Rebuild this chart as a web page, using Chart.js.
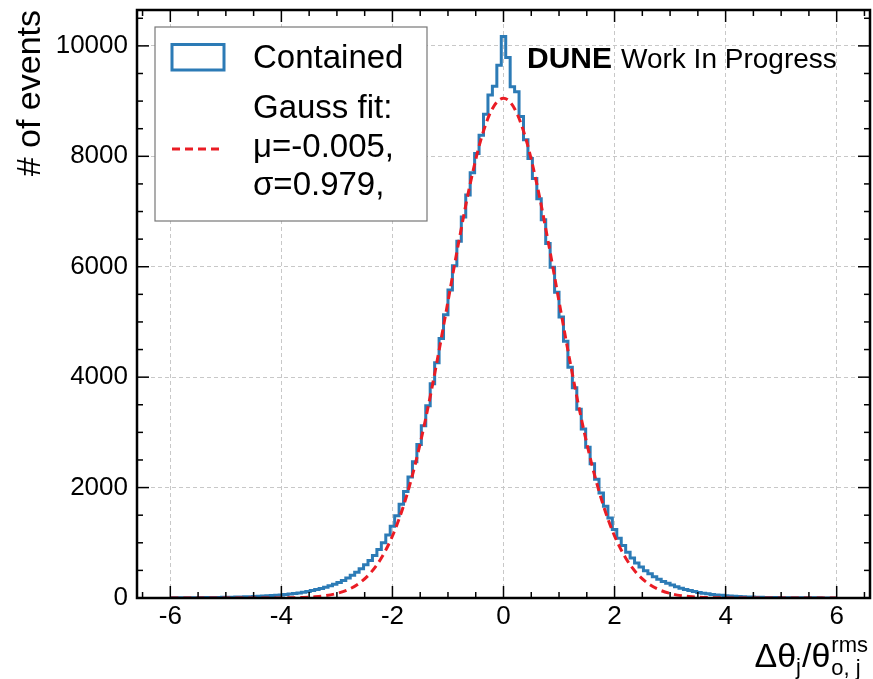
<!DOCTYPE html>
<html>
<head>
<meta charset="utf-8">
<script src="https://cdn.jsdelivr.net/npm/chart.js@4.4.0/dist/chart.umd.min.js"></script>
<style>
  html, body { margin: 0; padding: 0; background: #fff; }
  #wrap { width: 873px; height: 679px; }
</style>
</head>
<body>
<div id="wrap"><canvas id="chart" width="873" height="679"></canvas></div>
<script>
// histogram: 151 bins of width 0.08, centres from -6.00 to 6.00
var binFirst = -6.0;
var binWidth = 0.08;
var containedCounts = [
  3, 3, 4, 4, 5, 5, 6, 7, 7, 8,
  9, 10, 12, 13, 15, 17, 19, 22, 24, 27,
  31, 35, 39, 44, 50, 56, 63, 72, 81, 92,
  104, 118, 134, 152, 172, 195, 220, 248, 280, 318,
  360, 410, 465, 530, 600, 680, 770, 880, 1000, 1140,
  1300, 1490, 1700, 1930, 2190, 2470, 2780, 3120, 3480, 3880,
  4260, 4700, 5130, 5580, 6020, 6460, 6900, 7300, 7700, 8050,
  8380, 8760, 9110, 9270, 9650,
  10170,
  9790, 9260, 9170, 8720, 8300,
  7960, 7600, 7230, 6850, 6420, 5990, 5540, 5090, 4650, 4180,
  3810, 3420, 3060, 2730, 2430, 2150, 1900, 1660, 1450, 1240,
  1080, 950, 830, 725, 635, 560, 495, 440, 385, 340,
  300, 265, 235, 205, 178, 155, 135, 117, 101, 88,
  76, 65, 56, 48, 41, 35, 30, 26, 22, 19,
  16, 14, 12, 10, 9, 8, 7, 6, 6, 5,
  5, 4, 4, 3, 3, 3, 2, 2, 2, 2
];

// gauss fit curve read at steps of 0.2 from -6 to 6
var fitFirst = -6.0;
var fitStep = 0.2;
var fitValues = [
  0, 0, 0, 0, 0, 0, 0,
  0.1, 0.4, 0.9, 2.1, 4.8, 10.5, 22, 43, 83, 151, 266, 448, 725, 1123,
  1670, 2380, 3255, 4270, 5371, 6481, 7501, 8326, 8863,
  9050,
  8863, 8326, 7501, 6481, 5371, 4270, 3255, 2380, 1670,
  1123, 725, 448, 266, 151, 83, 43, 22, 10.5, 4.8, 2.1, 0.9, 0.4, 0.1,
  0, 0, 0, 0, 0, 0, 0
];

var xTicks = [-6, -4, -2, 0, 2, 4, 6];
var yTicks = [0, 2000, 4000, 6000, 8000, 10000];
var legendLabels = ["Contained", "Gauss fit:", "\u03bc=-0.005,", "\u03c3=0.979,"];

var FONT = "'Liberation Sans', Arial, Helvetica, sans-serif";
var BLUE = "#2c7bb6";
var RED = "#ea1c24";

Chart.defaults.font.family = FONT;
Chart.defaults.color = "#000";

function line(ctx, x1, y1, x2, y2) {
  ctx.beginPath();
  ctx.moveTo(x1, y1);
  ctx.lineTo(x2, y2);
  ctx.stroke();
}

// frame, inward ticks, legend box and texts
var decor = {
  id: "decor",
  afterDatasetsDraw: function(chart) {
    var ctx = chart.ctx, a = chart.chartArea;
    var xs = chart.scales.x, ys = chart.scales.y;
    ctx.save();

    // ticks pointing inwards on all four sides
    ctx.strokeStyle = "#000";
    ctx.lineWidth = 1.5;
    for (var v = -6.5; v <= 6.51; v += 0.5) {
      var px = xs.getPixelForValue(v);
      var len = Math.abs(v % 2) < 1e-6 ? 12 : 6;
      line(ctx, px, a.bottom, px, a.bottom - len);
      line(ctx, px, a.top, px, a.top + len);
    }
    for (var w = 0; w <= 10500; w += 500) {
      var py = ys.getPixelForValue(w);
      var l2 = w % 2000 === 0 ? 12 : 6;
      line(ctx, a.left, py, a.left + l2, py);
      line(ctx, a.right, py, a.right - l2, py);
    }

    // frame
    ctx.lineWidth = 2.5;
    ctx.strokeRect(a.left, a.top, a.right - a.left, a.bottom - a.top);

    // legend
    ctx.fillStyle = "#fff";
    ctx.fillRect(155, 27, 272, 194);
    ctx.strokeStyle = "#777";
    ctx.lineWidth = 1.2;
    ctx.strokeRect(155, 27, 272, 194);

    ctx.strokeStyle = BLUE;
    ctx.lineWidth = 3;
    ctx.strokeRect(172, 44.5, 52, 25.5);

    ctx.strokeStyle = RED;
    ctx.lineWidth = 3;
    ctx.setLineDash([8, 5]);
    line(ctx, 172, 149, 224, 149);
    ctx.setLineDash([]);

    ctx.fillStyle = "#000";
    ctx.textAlign = "left";
    ctx.textBaseline = "alphabetic";
    ctx.font = "33px " + FONT;
    ctx.fillText(legendLabels[0], 253, 68);
    ctx.fillText(legendLabels[1], 253, 118);
    ctx.fillText(legendLabels[2], 253, 157);
    ctx.fillText(legendLabels[3], 253, 195);

    // experiment label
    ctx.font = "bold 30px " + FONT;
    ctx.fillText("DUNE", 527, 68);
    var dw = ctx.measureText("DUNE").width;
    ctx.font = "28px " + FONT;
    ctx.fillText("Work In Progress", 527 + dw + 9, 68);

    // y title
    ctx.save();
    ctx.translate(40, 10);
    ctx.rotate(-Math.PI / 2);
    ctx.textAlign = "right";
    ctx.font = "34px " + FONT;
    ctx.fillText("# of events", 0, 0);
    ctx.restore();

    // x title with sub/superscripts
    var big = "34px " + FONT, small = "22px " + FONT;
    ctx.font = big;
    var wA = ctx.measureText("\u0394\u03b8").width;
    var wC = ctx.measureText("/\u03b8").width;
    ctx.font = small;
    var wB = ctx.measureText("j").width;
    var wD = Math.max(ctx.measureText("rms").width, ctx.measureText("o, j").width);
    var base = 667;
    var x0 = 869 - (wA + wB + wC + wD + 3);
    ctx.font = big;
    ctx.fillText("\u0394\u03b8", x0, base);
    ctx.font = small;
    ctx.fillText("j", x0 + wA, base + 7);
    ctx.font = big;
    ctx.fillText("/\u03b8", x0 + wA + wB + 1, base);
    ctx.font = small;
    var xd = x0 + wA + wB + wC + 2;
    ctx.fillText("rms", xd, base - 15);
    ctx.fillText("o, j", xd, base + 8);

    ctx.restore();
  }
};

var histData = containedCounts.map(function(c, i) {
  return { x: binFirst + i * binWidth, y: c };
});
var fitData = fitValues.map(function(f, i) {
  return { x: fitFirst + i * fitStep, y: f };
});

function plain(v) { return String(v); }
function noPad(s) {
  s.paddingTop = 0; s.paddingBottom = 0; s.paddingLeft = 0; s.paddingRight = 0;
}

new Chart(document.getElementById("chart").getContext("2d"), {
  type: "line",
  data: {
    datasets: [
      {
        label: "Contained",
        data: histData,
        borderColor: BLUE,
        borderWidth: 3,
        stepped: "middle",
        pointRadius: 0,
        fill: false,
        order: 2
      },
      {
        label: "Gauss fit",
        data: fitData,
        borderColor: RED,
        borderWidth: 3,
        borderDash: [8, 5],
        cubicInterpolationMode: "monotone",
        pointRadius: 0,
        fill: false,
        order: 1
      }
    ]
  },
  options: {
    responsive: false,
    animation: false,
    devicePixelRatio: 1,
    layout: { padding: { top: 10, right: 3, left: 0, bottom: 0 } },
    plugins: { legend: { display: false }, tooltip: { enabled: false } },
    scales: {
      x: {
        type: "linear",
        min: -6.6,
        max: 6.6,
        afterBuildTicks: function(s) { s.ticks = xTicks.map(function(v) { return { value: v }; }); },
        afterFit: function(s) { s.height = 81; noPad(s); },
        grid: { color: "#c8c8c8", lineWidth: 1, drawTicks: false },
        border: { display: false, dash: [4, 3] },
        ticks: { font: { size: 26 }, color: "#000", padding: 3, maxRotation: 0, callback: plain }
      },
      y: {
        type: "linear",
        min: 0,
        max: 10650,
        afterBuildTicks: function(s) { s.ticks = yTicks.map(function(v) { return { value: v }; }); },
        afterFit: function(s) { s.width = 137; noPad(s); },
        grid: { color: "#c8c8c8", lineWidth: 1, drawTicks: false },
        border: { display: false, dash: [4, 3] },
        ticks: { font: { size: 26 }, color: "#000", padding: 9, callback: plain }
      }
    }
  },
  plugins: [decor]
});
</script>
</body>
</html>
